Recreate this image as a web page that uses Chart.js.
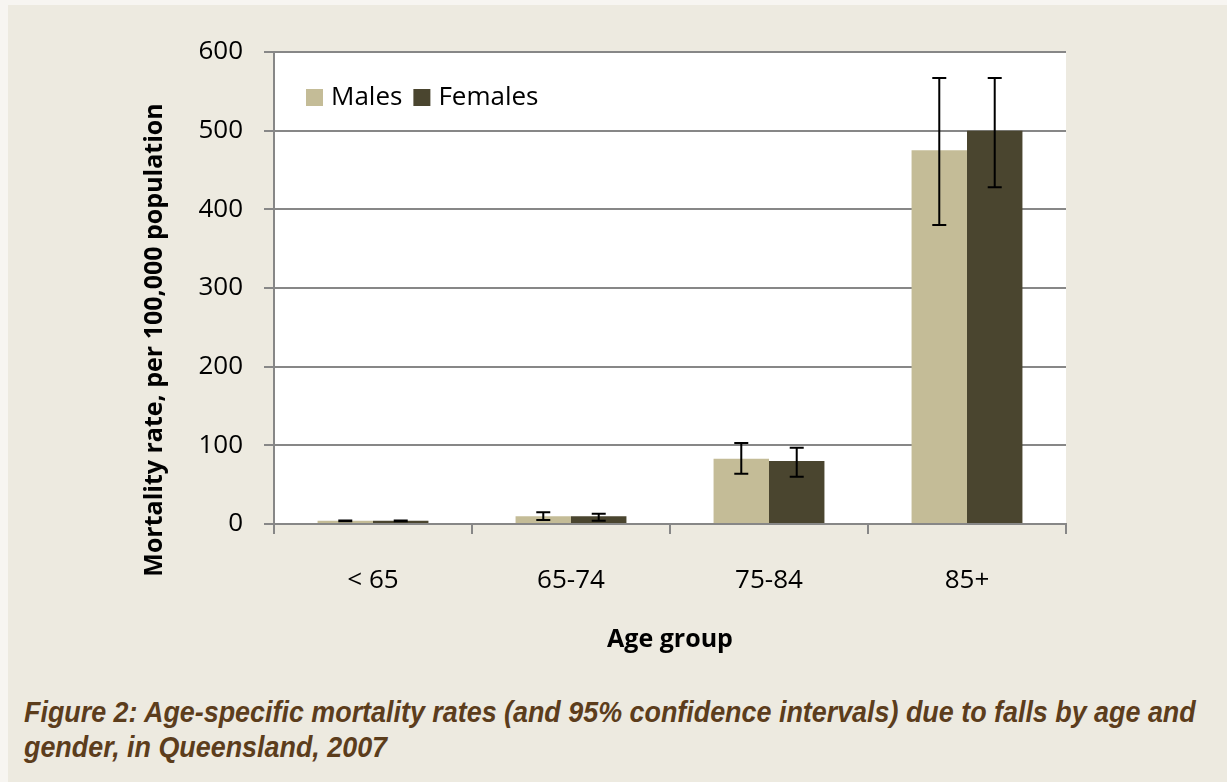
<!DOCTYPE html>
<html>
<head>
<meta charset="utf-8">
<script src="https://cdn.jsdelivr.net/npm/chart.js@4.4.1/dist/chart.umd.min.js"></script>
<style>
  html, body { margin: 0; padding: 0; background: #f7f5f1; }
  #painel {
    position: absolute; left: 8px; top: 5px; width: 1219px; height: 777px;
    background: #edeae0;
  }
  #caixa { position: absolute; left: -8px; top: -5px; width: 1227px; height: 680px; }
  #legenda {
    position: absolute; left: 16px; top: 690px; width: 1320px;
    font: italic bold 29px "Liberation Sans", Arial, sans-serif;
    color: #5c3d1c; line-height: 35px;
    transform: scaleX(0.927); transform-origin: 0 0;
  }
</style>
</head>
<body>
<div id="painel">
  <div id="caixa"><canvas id="grafico_quedas"></canvas></div>
  <div id="legenda">Figure 2: Age-specific mortality rates (and 95% confidence intervals) due to falls by age and<br>gender, in Queensland, 2007</div>
</div>
<script>
var faixas = ['< 65', '65-74', '75-84', '85+'];
var homens = [4, 10, 83, 475];
var mulheres = [4, 10, 80, 500];
var homensMin = [3.5, 5, 64, 380];
var homensMax = [4.5, 15, 103, 567];
var mulheresMin = [3.5, 4, 60, 428];
var mulheresMax = [4.5, 13, 97, 567];
var ticksY = [0, 100, 200, 300, 400, 500, 600];
var tituloY = 'Mortality rate, per 100,000 population';

var fonte = '"Open Sans"';

// fundo branco so na area do grafico
var fundoBranco = {
  id: 'fundoBranco',
  beforeDraw: function(chart) {
    var a = chart.chartArea;
    var ctx = chart.ctx;
    ctx.save();
    ctx.fillStyle = '#ffffff';
    ctx.fillRect(a.left, a.top, a.right - a.left, a.bottom - a.top);
    ctx.restore();
  }
};

// barras de erro (intervalo de 95%)
var barrasErro = {
  id: 'barrasErro',
  afterDatasetsDraw: function(chart) {
    var ctx = chart.ctx;
    var y = chart.scales.y;
    ctx.save();
    ctx.strokeStyle = '#000000';
    ctx.lineWidth = 2;
    chart.data.datasets.forEach(function(ds, i) {
      var meta = chart.getDatasetMeta(i);
      meta.data.forEach(function(barra, j) {
        var yMin = y.getPixelForValue(ds.erroMin[j]);
        var yMax = y.getPixelForValue(ds.erroMax[j]);
        var x = barra.x;
        ctx.beginPath();
        ctx.moveTo(x, yMin); ctx.lineTo(x, yMax);
        ctx.moveTo(x - 7, yMin); ctx.lineTo(x + 7, yMin);
        ctx.moveTo(x - 7, yMax); ctx.lineTo(x + 7, yMax);
        ctx.stroke();
      });
    });
    ctx.restore();
  }
};

// legenda dentro da area do grafico + titulo do eixo y (um pouco abaixo do centro, como no original)
var extrasTexto = {
  id: 'extrasTexto',
  afterDraw: function(chart) {
    var ctx = chart.ctx;
    var a = chart.chartArea;
    var x = a.left + 32;
    var y = a.top + 37;
    ctx.save();
    ctx.font = '26px ' + fonte;
    ctx.textBaseline = 'middle';
    chart.data.datasets.forEach(function(ds) {
      ctx.fillStyle = ds.backgroundColor;
      ctx.fillRect(x, y, 17, 17);
      ctx.fillStyle = '#000000';
      ctx.fillText(ds.label, x + 25, y + 9);
      x += 25 + ctx.measureText(ds.label).width + 11;
    });

    ctx.translate(a.left - 119, (a.top + a.bottom) / 2 + 52);
    ctx.rotate(-Math.PI / 2);
    ctx.font = 'bold 25px ' + fonte;
    ctx.textAlign = 'center';
    ctx.fillText(tituloY, 0, 0);
    ctx.restore();
  }
};

function plotarGrafico() {
  new Chart(document.getElementById('grafico_quedas'), {
    type: 'bar',
    data: {
      labels: faixas,
      datasets: [
        {
          label: 'Males',
          data: homens,
          erroMin: homensMin,
          erroMax: homensMax,
          backgroundColor: '#c4bc97',
          borderWidth: 0
        },
        {
          label: 'Females',
          data: mulheres,
          erroMin: mulheresMin,
          erroMax: mulheresMax,
          backgroundColor: '#4a452f',
          borderWidth: 0
        }
      ]
    },
    options: {
      responsive: true,
      maintainAspectRatio: false,
      animation: false,
      datasets: { bar: { categoryPercentage: 0.56, barPercentage: 1.0 } },
      layout: { padding: { left: 0, top: 52, right: 161, bottom: 0 } },
      plugins: {
        legend: { display: false },
        tooltip: { enabled: false }
      },
      scales: {
        x: {
          grid: { drawOnChartArea: false, drawTicks: true, tickLength: 10, color: '#878787', lineWidth: 2, offset: true },
          border: { color: '#878787', width: 2 },
          ticks: { color: '#000000', padding: 31, font: { family: fonte, size: 26 } },
          title: { display: true, text: 'Age group', color: '#000000', padding: { top: 0, bottom: 25 }, font: { family: fonte, size: 25, weight: 'bold' } },
          afterFit: function(escala) { escala.height = 156; }
        },
        y: {
          min: 0,
          max: 600,
          afterBuildTicks: function(escala) {
            escala.ticks = ticksY.map(function(v) { return { value: v }; });
          },
          grid: { color: '#878787', lineWidth: 2, tickLength: 10 },
          border: { color: '#878787', width: 2 },
          ticks: { color: '#000000', padding: 21, font: { family: fonte, size: 26 } },
          afterFit: function(escala) { escala.width = 274; }
        }
      }
    },
    plugins: [fundoBranco, barrasErro, extrasTexto]
  });
}

plotarGrafico();
</script>
</body>
</html>
